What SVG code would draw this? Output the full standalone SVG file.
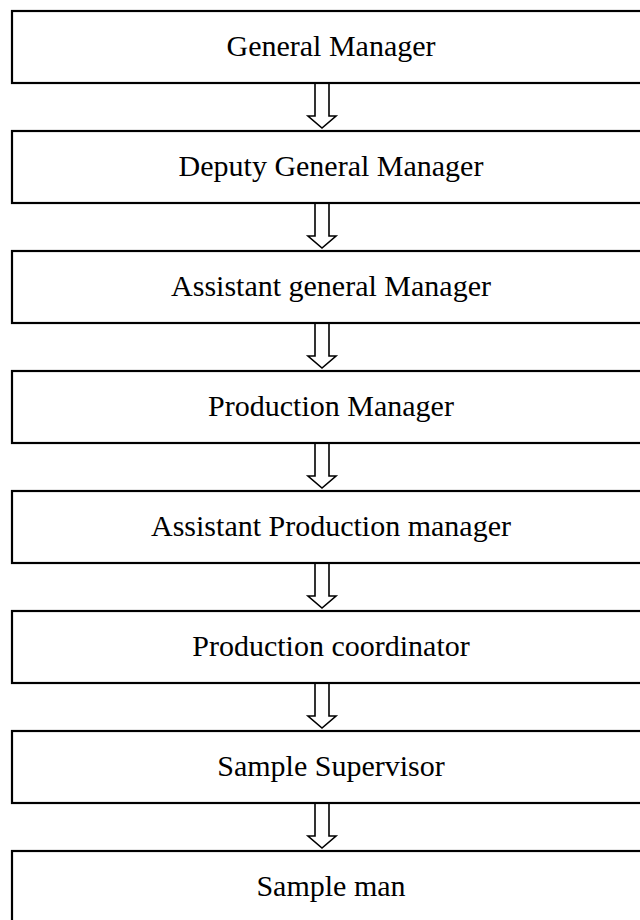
<svg xmlns="http://www.w3.org/2000/svg" width="640" height="920" viewBox="0 0 640 920">
<style>
.box{fill:#fff;stroke:#000;stroke-width:2.2}
.lbl{font-family:"Liberation Serif","Times New Roman",serif;font-size:30px;fill:#000;text-anchor:middle}
.arr{fill:#fff;stroke:#000;stroke-width:1.6;stroke-linejoin:miter}
</style>
<rect width="640" height="920" fill="#fff"/>
<g id="connectors">
<path class="arr" d="M315,83 V116 H308 L322,128 L336,116 H329 V83"/>
<path class="arr" d="M315,203 V236 H308 L322,248 L336,236 H329 V203"/>
<path class="arr" d="M315,323 V356 H308 L322,368 L336,356 H329 V323"/>
<path class="arr" d="M315,443 V476 H308 L322,488 L336,476 H329 V443"/>
<path class="arr" d="M315,563 V596 H308 L322,608 L336,596 H329 V563"/>
<path class="arr" d="M315,683 V716 H308 L322,728 L336,716 H329 V683"/>
<path class="arr" d="M315,803 V836 H308 L322,848 L336,836 H329 V803"/>
</g>
<g id="n1"><rect class="box" x="12" y="11" width="640" height="72"/><text class="lbl" x="331" y="56">General Manager</text></g>
<g id="n2"><rect class="box" x="12" y="131" width="640" height="72"/><text class="lbl" x="331" y="176">Deputy General Manager</text></g>
<g id="n3"><rect class="box" x="12" y="251" width="640" height="72"/><text class="lbl" x="331" y="296">Assistant general Manager</text></g>
<g id="n4"><rect class="box" x="12" y="371" width="640" height="72"/><text class="lbl" x="331" y="416">Production Manager</text></g>
<g id="n5"><rect class="box" x="12" y="491" width="640" height="72"/><text class="lbl" x="331" y="536">Assistant Production manager</text></g>
<g id="n6"><rect class="box" x="12" y="611" width="640" height="72"/><text class="lbl" x="331" y="656">Production coordinator</text></g>
<g id="n7"><rect class="box" x="12" y="731" width="640" height="72"/><text class="lbl" x="331" y="776">Sample Supervisor</text></g>
<g id="n8"><rect class="box" x="12" y="851" width="640" height="72"/><text class="lbl" x="331" y="896">Sample man</text></g>
</svg>
